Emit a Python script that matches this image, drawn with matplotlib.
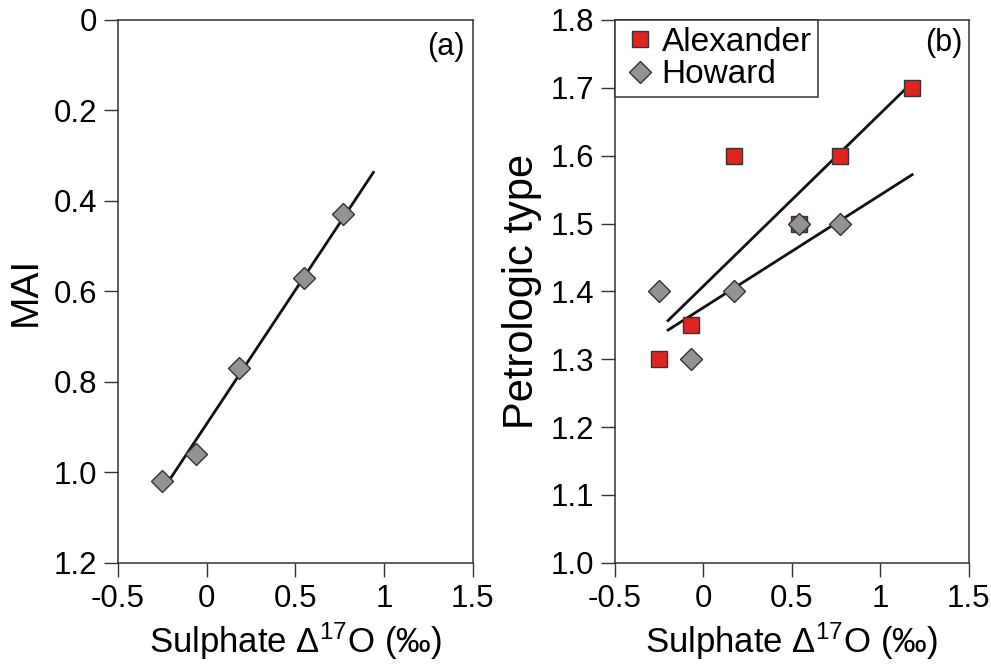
import numpy as np
import matplotlib.pyplot as plt

plt.rcParams['font.family'] = ['Liberation Sans', 'DejaVu Sans']
plt.rcParams['mathtext.fontset'] = 'custom'
plt.rcParams['mathtext.rm'] = 'Liberation Sans'
plt.rcParams['mathtext.it'] = 'Liberation Sans:italic'

# panel (a): MAI vs sulphate D17O
mai_x = [-0.25, -0.06, 0.18, 0.55, 0.77]
mai_y = [1.02, 0.96, 0.77, 0.57, 0.43]
mai_fit_x = [-0.24, 0.94]
mai_fit_y = [1.035, 0.337]

# panel (b): petrologic type vs sulphate D17O
alex_x = [-0.25, -0.07, 0.17, 0.54, 0.77, 1.18]
alex_y = [1.30, 1.35, 1.60, 1.50, 1.60, 1.70]
howard_x = [-0.25, -0.07, 0.17, 0.54, 0.77]
howard_y = [1.40, 1.30, 1.40, 1.50, 1.50]
alex_fit_x = [-0.20, 1.18]
alex_fit_y = [1.357, 1.708]
howard_fit_x = [-0.20, 1.18]
howard_fit_y = [1.343, 1.572]

x_ticks = [-0.5, 0, 0.5, 1, 1.5]
x_ticklabels = ['-0.5', '0', '0.5', '1', '1.5']
mai_ticks = [0, 0.2, 0.4, 0.6, 0.8, 1.0, 1.2]
mai_ticklabels = ['0', '0.2', '0.4', '0.6', '0.8', '1.0', '1.2']
pet_ticks = [1.0, 1.1, 1.2, 1.3, 1.4, 1.5, 1.6, 1.7, 1.8]

edge = '#333333'
red = '#DE2320'
grey = '#939393'
xlabel = r'Sulphate $\Delta^{17}$O (‰)'

fig = plt.figure(figsize=(9.91, 6.66), dpi=100)
ax1 = fig.add_axes([0.119, 0.155, 0.358, 0.815])
ax2 = fig.add_axes([0.6206, 0.155, 0.357, 0.815])


def style(ax):
    for s in ax.spines.values():
        s.set_color(edge)
        s.set_linewidth(1.1)
    ax.tick_params(direction='out', length=10, width=1.0, color=edge,
                   labelsize=22.5, pad=5, top=False, right=False)
    ax.set_xlim(-0.5, 1.5)
    ax.set_xticks(x_ticks)
    ax.set_xticklabels(x_ticklabels)
    ax.set_xlabel(xlabel, fontsize=25, labelpad=5)


# (a)
style(ax1)
ax1.plot(mai_fit_x, mai_fit_y, color='#111111', lw=2.0, zorder=2)
ax1.plot(mai_x, mai_y, 'D', ms=11, mfc=grey, mec=edge, mew=1.0, zorder=3)
ax1.set_ylim(1.2, 0)
ax1.set_yticks(mai_ticks)
ax1.set_yticklabels(mai_ticklabels)
ax1.set_ylabel('MAI', fontsize=28, labelpad=7)
ax1.text(0.978, 0.978, '(a)', transform=ax1.transAxes, ha='right', va='top', fontsize=22)

# (b)
style(ax2)
ax2.plot(alex_fit_x, alex_fit_y, color='#111111', lw=2.0, zorder=2)
ax2.plot(howard_fit_x, howard_fit_y, color='#111111', lw=2.0, zorder=2)
ax2.plot(alex_x, alex_y, 's', ms=11.5, mfc=red, mec=edge, mew=1.0, zorder=3, label='Alexander')
ax2.plot(howard_x, howard_y, 'D', ms=11, mfc=grey, mec=edge, mew=1.0, zorder=4, label='Howard')
ax2.set_ylim(1.0, 1.8)
ax2.set_yticks(pet_ticks)
ax2.set_yticklabels(['%.1f' % t for t in pet_ticks])
ax2.set_ylabel('Petrologic type', fontsize=30, labelpad=6)
ax2.text(0.983, 0.985, '(b)', transform=ax2.transAxes, ha='right', va='top', fontsize=22)

leg = ax2.legend(loc='upper left', bbox_to_anchor=(0, 1), borderaxespad=0,
                 fontsize=24, fancybox=False, framealpha=1, edgecolor=edge,
                 handlelength=1.1, handletextpad=0.1, labelspacing=0.05,
                 borderpad=0.2, markerscale=1.0)
leg.get_frame().set_linewidth(1.1)

fig.savefig('out.png', dpi=100)
